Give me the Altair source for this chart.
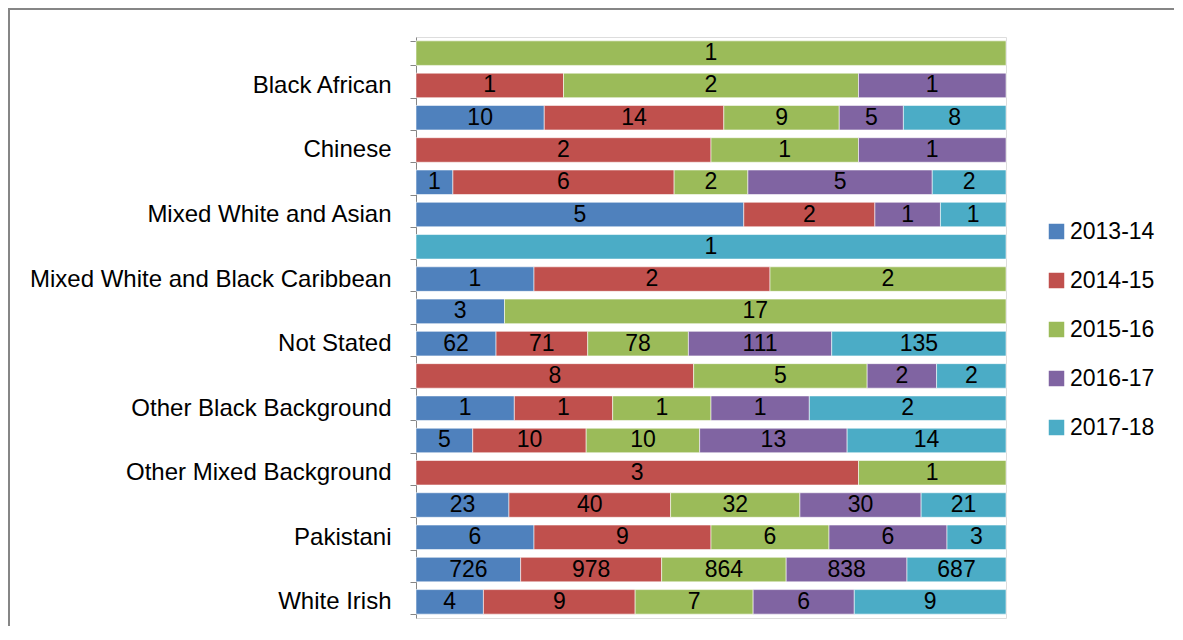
import altair as alt
import pandas as pd

categories = [
    "Bangladeshi", "Black African", "Black Caribbean", "Chinese", "Indian",
    "Mixed White and Asian", "Mixed White and Black African",
    "Mixed White and Black Caribbean", "Not Known", "Not Stated",
    "Other Asian Background", "Other Black Background", "Other Ethnic Group",
    "Other Mixed Background", "Other White Background", "Pakistani",
    "White British", "White Irish",
]
shown_labels = [
    "Black African", "Chinese", "Mixed White and Asian",
    "Mixed White and Black Caribbean", "Not Stated", "Other Black Background",
    "Other Mixed Background", "Pakistani", "White Irish",
]
years = ["2013-14", "2014-15", "2015-16", "2016-17", "2017-18"]
v_2013_14 = [0, 0, 10, 0, 1, 5, 0, 1, 3, 62, 0, 1, 5, 0, 23, 6, 726, 4]
v_2014_15 = [0, 1, 14, 2, 6, 2, 0, 2, 0, 71, 8, 1, 10, 3, 40, 9, 978, 9]
v_2015_16 = [1, 2, 9, 1, 2, 0, 0, 2, 17, 78, 5, 1, 10, 1, 32, 6, 864, 7]
v_2016_17 = [0, 1, 5, 1, 5, 1, 0, 0, 0, 111, 2, 1, 13, 0, 30, 6, 838, 6]
v_2017_18 = [0, 0, 8, 0, 2, 1, 1, 0, 0, 135, 2, 2, 14, 0, 21, 3, 687, 9]
colors = ["#4F81BD", "#C0504D", "#9BBB59", "#8064A2", "#4BACC6"]

series = [v_2013_14, v_2014_15, v_2015_16, v_2016_17, v_2017_18]
rows = []
for yi, (yr, vals) in enumerate(zip(years, series)):
    for cat, v in zip(categories, vals):
        if v:
            rows.append({"cat": cat, "year": yr, "order": yi, "value": v})
df = pd.DataFrame(rows)

FONT = "Liberation Sans"
label_list = ",".join("'" + s + "'" for s in shown_labels)

base = alt.Chart(df).transform_stack(
    stack="value", groupby=["cat"], as_=["x0", "x1"], offset="normalize",
    sort=[alt.SortField("order", order="ascending")],
).transform_calculate(mid="(datum.x0 + datum.x1) / 2")

yenc = alt.Y(
    "cat:N", sort=categories, title=None,
    scale=alt.Scale(paddingInner=0.24, paddingOuter=0.12),
    axis=alt.Axis(
        labelExpr=f"indexof([{label_list}], datum.label) >= 0 ? datum.label : ''",
        labelFont=FONT, labelFontSize=24, labelColor="#000000",
        labelPadding=19, tickBand="extent", tickSize=6,
        tickColor="#868686", domainColor="#868686", labelLimit=500,
    ),
)

bars = base.mark_bar(stroke="white", strokeWidth=0.8, strokeOpacity=0.7).encode(
    x=alt.X("x0:Q", axis=None, scale=alt.Scale(domain=[0, 1], nice=False)),
    x2="x1:Q",
    y=yenc,
    color=alt.Color(
        "year:N", sort=years, scale=alt.Scale(domain=years, range=colors),
        legend=alt.Legend(
            title=None, orient="none", legendX=629, legendY=183,
            symbolType="square", symbolSize=240, symbolStrokeWidth=0,
            labelFont=FONT, labelFontSize=23, labelColor="#000000",
            rowPadding=25, labelOffset=2,
        ),
    ),
)

texts = base.mark_text(font=FONT, fontSize=23, color="#000000", baseline="middle").encode(
    x=alt.X("mid:Q", scale=alt.Scale(domain=[0, 1], nice=False)),
    y=alt.Y("cat:N", sort=categories),
    text="value:Q",
)

border_top = alt.Chart(df).mark_rule(color="#868686", strokeWidth=2).encode(
    x=alt.value(-409), x2=alt.value(900), y=alt.value(-28)
)
border_left = alt.Chart(df).mark_rule(color="#868686", strokeWidth=2).encode(
    x=alt.value(-407), y=alt.value(-29), y2=alt.value(700)
)

chart = alt.layer(border_top, border_left, bars, texts).properties(
    width=590, height=581,
    padding={"left": 408, "top": 29, "right": 168, "bottom": 8},
    autosize=alt.AutoSizeParams(type="none"),
).configure_view(stroke=None).configure(background="white")

chart.save("out.html", embed_options={"renderer": "svg", "actions": False})
